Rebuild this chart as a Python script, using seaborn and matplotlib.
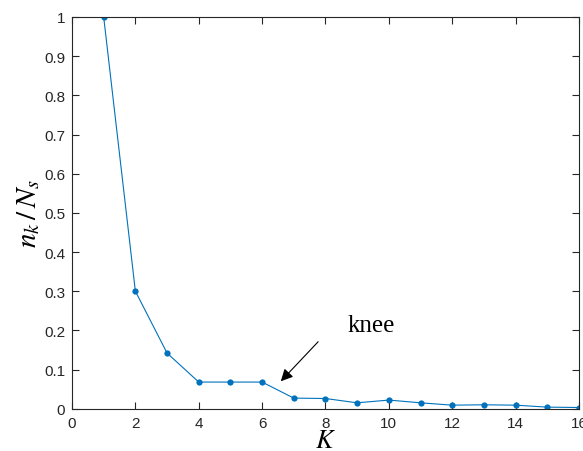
import matplotlib
matplotlib.use("Agg")
import matplotlib.pyplot as plt
import seaborn as sns
import pandas as pd

K = [1, 2, 3, 4, 5, 6, 7, 8, 9, 10, 11, 12, 13, 14, 15, 16]
ratio = [1.0, 0.300, 0.142, 0.068, 0.068, 0.068, 0.027, 0.026, 0.015, 0.022,
         0.015, 0.009, 0.010, 0.009, 0.004, 0.003]
xticks = [0, 2, 4, 6, 8, 10, 12, 14, 16]
yticks = [0, 0.1, 0.2, 0.3, 0.4, 0.5, 0.6, 0.7, 0.8, 0.9, 1]
ytick_labels = ["0", "0.1", "0.2", "0.3", "0.4", "0.5", "0.6", "0.7", "0.8", "0.9", "1"]

sns.set_style("ticks")
plt.rcParams["font.family"] = ["Liberation Sans", "DejaVu Sans"]
plt.rcParams["mathtext.fontset"] = "stix"

df = pd.DataFrame({"K": K, "ratio": ratio})

fig = plt.figure(figsize=(5.83, 4.52), dpi=100)
ax = fig.add_axes([0.1235, 0.0936, 0.8695, 0.8666])

sns.lineplot(data=df, x="K", y="ratio", ax=ax, color="#0072BD", linewidth=0.8,
             marker="o", markersize=4.5, markeredgewidth=0, markerfacecolor="#0072BD")

ax.set_xlim(0, 16)
ax.set_ylim(0, 1)
ax.set_xticks(xticks)
ax.set_xticklabels([str(t) for t in xticks])
ax.set_yticks(yticks)
ax.set_yticklabels(ytick_labels)

axc = "#262626"
for s in ax.spines.values():
    s.set_visible(True)
    s.set_color(axc)
    s.set_linewidth(0.8)
ax.tick_params(direction="in", length=5, width=0.8, color=axc, labelcolor=axc,
               labelsize=11, top=True, right=True, pad=5)

ax.set_xlabel("$K$", fontsize=19, labelpad=-1, color="black")
ax.set_ylabel("$n_k\\,/\\,N_s$", fontsize=21, labelpad=1, color="black")

ax.annotate("", xy=(6.59, 0.070), xytext=(7.77, 0.171),
            arrowprops=dict(arrowstyle="-|>", color="black", lw=0.8,
                            mutation_scale=18, shrinkA=0, shrinkB=0))
ax.text(9.46, 0.213, "knee", fontsize=18, ha="center", va="center",
        family=["Liberation Serif", "DejaVu Serif"], color="black")

fig.savefig("out.png", dpi=100)
